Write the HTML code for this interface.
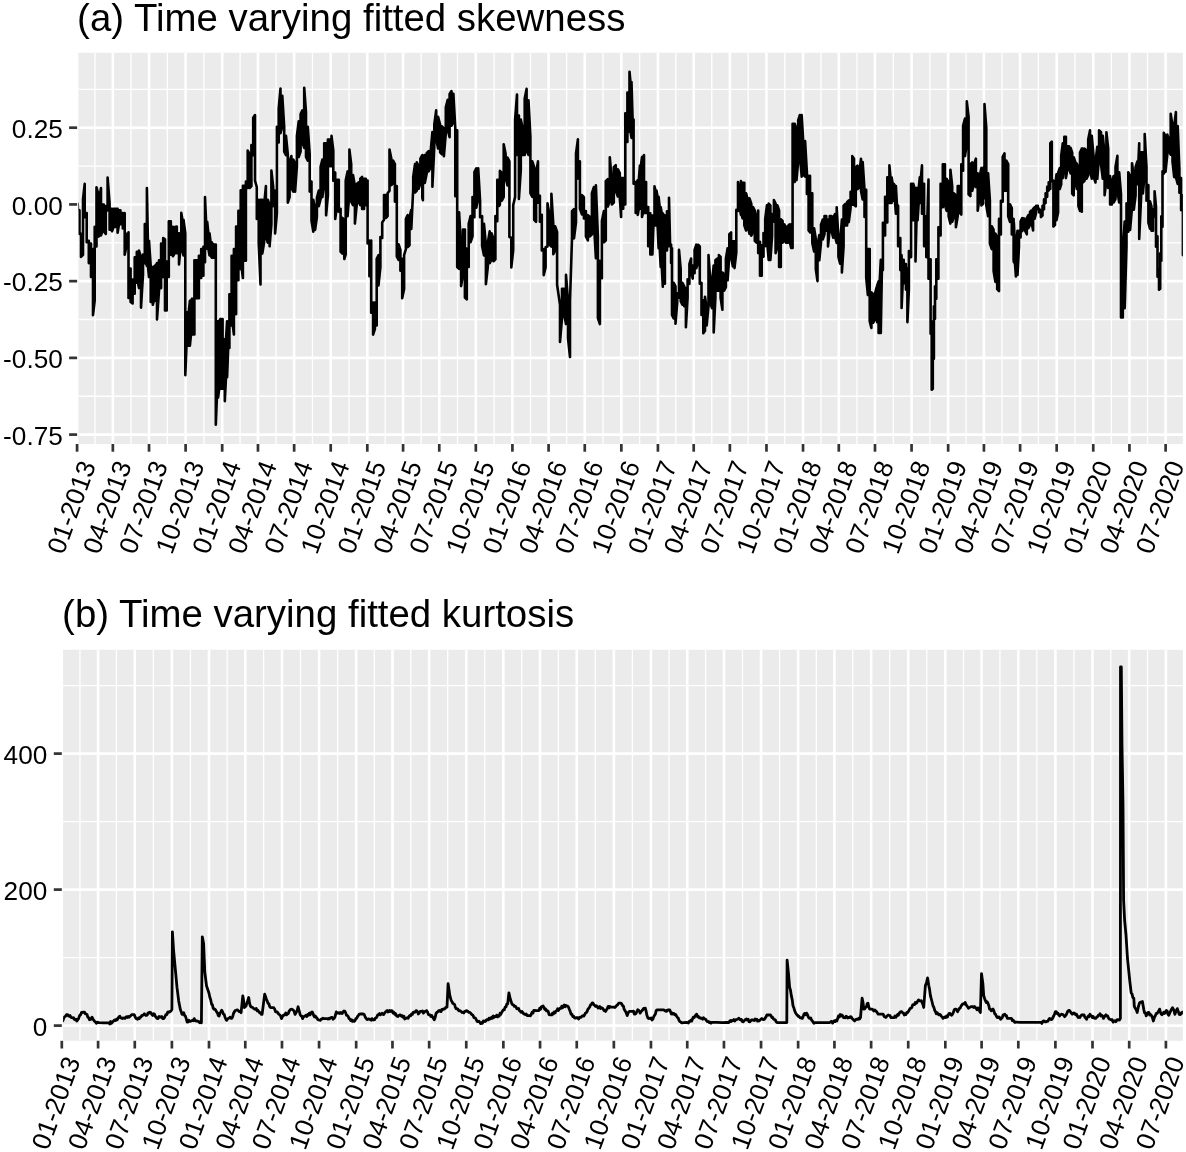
<!DOCTYPE html><html><head><meta charset="utf-8"><style>html,body{margin:0;padding:0;background:#fff;}svg{display:block;will-change:transform}text{font-family:"Liberation Sans",sans-serif;}</style></head><body>
<svg width="1186" height="1152" viewBox="0 0 1186 1152">
<rect width="1186" height="1152" fill="#fff"/>
<text x="77.1" y="30.6" font-size="38.4" fill="#000">(a) Time varying fitted skewness</text>
<rect x="78.4" y="52.8" width="1104.50" height="391.20" fill="#EBEBEB"/>
<clipPath id="ca"><rect x="78.4" y="52.8" width="1104.50" height="391.20"/></clipPath>
<g stroke="#fff" clip-path="url(#ca)"><line x1="78.4" x2="1182.9" y1="89.34" y2="89.34" stroke-width="1.3"/><line x1="78.4" x2="1182.9" y1="166.06" y2="166.06" stroke-width="1.3"/><line x1="78.4" x2="1182.9" y1="242.79" y2="242.79" stroke-width="1.3"/><line x1="78.4" x2="1182.9" y1="319.51" y2="319.51" stroke-width="1.3"/><line x1="78.4" x2="1182.9" y1="396.24" y2="396.24" stroke-width="1.3"/><line x1="94.96" x2="94.96" y1="52.8" y2="444.0" stroke-width="1.3"/><line x1="130.94" x2="130.94" y1="52.8" y2="444.0" stroke-width="1.3"/><line x1="167.32" x2="167.32" y1="52.8" y2="444.0" stroke-width="1.3"/><line x1="203.89" x2="203.89" y1="52.8" y2="444.0" stroke-width="1.3"/><line x1="240.07" x2="240.07" y1="52.8" y2="444.0" stroke-width="1.3"/><line x1="276.05" x2="276.05" y1="52.8" y2="444.0" stroke-width="1.3"/><line x1="312.43" x2="312.43" y1="52.8" y2="444.0" stroke-width="1.3"/><line x1="349.01" x2="349.01" y1="52.8" y2="444.0" stroke-width="1.3"/><line x1="385.19" x2="385.19" y1="52.8" y2="444.0" stroke-width="1.3"/><line x1="421.17" x2="421.17" y1="52.8" y2="444.0" stroke-width="1.3"/><line x1="457.54" x2="457.54" y1="52.8" y2="444.0" stroke-width="1.3"/><line x1="494.12" x2="494.12" y1="52.8" y2="444.0" stroke-width="1.3"/><line x1="530.50" x2="530.50" y1="52.8" y2="444.0" stroke-width="1.3"/><line x1="566.68" x2="566.68" y1="52.8" y2="444.0" stroke-width="1.3"/><line x1="603.06" x2="603.06" y1="52.8" y2="444.0" stroke-width="1.3"/><line x1="639.63" x2="639.63" y1="52.8" y2="444.0" stroke-width="1.3"/><line x1="675.81" x2="675.81" y1="52.8" y2="444.0" stroke-width="1.3"/><line x1="711.79" x2="711.79" y1="52.8" y2="444.0" stroke-width="1.3"/><line x1="748.17" x2="748.17" y1="52.8" y2="444.0" stroke-width="1.3"/><line x1="784.74" x2="784.74" y1="52.8" y2="444.0" stroke-width="1.3"/><line x1="820.92" x2="820.92" y1="52.8" y2="444.0" stroke-width="1.3"/><line x1="856.90" x2="856.90" y1="52.8" y2="444.0" stroke-width="1.3"/><line x1="893.28" x2="893.28" y1="52.8" y2="444.0" stroke-width="1.3"/><line x1="929.86" x2="929.86" y1="52.8" y2="444.0" stroke-width="1.3"/><line x1="966.04" x2="966.04" y1="52.8" y2="444.0" stroke-width="1.3"/><line x1="1002.02" x2="1002.02" y1="52.8" y2="444.0" stroke-width="1.3"/><line x1="1038.39" x2="1038.39" y1="52.8" y2="444.0" stroke-width="1.3"/><line x1="1074.97" x2="1074.97" y1="52.8" y2="444.0" stroke-width="1.3"/><line x1="1111.35" x2="1111.35" y1="52.8" y2="444.0" stroke-width="1.3"/><line x1="1147.53" x2="1147.53" y1="52.8" y2="444.0" stroke-width="1.3"/><line x1="78.4" x2="1182.9" y1="127.70" y2="127.70" stroke-width="2.6"/><line x1="78.4" x2="1182.9" y1="204.43" y2="204.43" stroke-width="2.6"/><line x1="78.4" x2="1182.9" y1="281.15" y2="281.15" stroke-width="2.6"/><line x1="78.4" x2="1182.9" y1="357.88" y2="357.88" stroke-width="2.6"/><line x1="78.4" x2="1182.9" y1="434.60" y2="434.60" stroke-width="2.6"/><line x1="112.85" x2="112.85" y1="52.8" y2="444.0" stroke-width="2.6"/><line x1="149.03" x2="149.03" y1="52.8" y2="444.0" stroke-width="2.6"/><line x1="185.61" x2="185.61" y1="52.8" y2="444.0" stroke-width="2.6"/><line x1="222.18" x2="222.18" y1="52.8" y2="444.0" stroke-width="2.6"/><line x1="257.96" x2="257.96" y1="52.8" y2="444.0" stroke-width="2.6"/><line x1="294.14" x2="294.14" y1="52.8" y2="444.0" stroke-width="2.6"/><line x1="330.72" x2="330.72" y1="52.8" y2="444.0" stroke-width="2.6"/><line x1="367.30" x2="367.30" y1="52.8" y2="444.0" stroke-width="2.6"/><line x1="403.08" x2="403.08" y1="52.8" y2="444.0" stroke-width="2.6"/><line x1="439.26" x2="439.26" y1="52.8" y2="444.0" stroke-width="2.6"/><line x1="475.83" x2="475.83" y1="52.8" y2="444.0" stroke-width="2.6"/><line x1="512.41" x2="512.41" y1="52.8" y2="444.0" stroke-width="2.6"/><line x1="548.59" x2="548.59" y1="52.8" y2="444.0" stroke-width="2.6"/><line x1="584.77" x2="584.77" y1="52.8" y2="444.0" stroke-width="2.6"/><line x1="621.34" x2="621.34" y1="52.8" y2="444.0" stroke-width="2.6"/><line x1="657.92" x2="657.92" y1="52.8" y2="444.0" stroke-width="2.6"/><line x1="693.70" x2="693.70" y1="52.8" y2="444.0" stroke-width="2.6"/><line x1="729.88" x2="729.88" y1="52.8" y2="444.0" stroke-width="2.6"/><line x1="766.46" x2="766.46" y1="52.8" y2="444.0" stroke-width="2.6"/><line x1="803.03" x2="803.03" y1="52.8" y2="444.0" stroke-width="2.6"/><line x1="838.81" x2="838.81" y1="52.8" y2="444.0" stroke-width="2.6"/><line x1="874.99" x2="874.99" y1="52.8" y2="444.0" stroke-width="2.6"/><line x1="911.57" x2="911.57" y1="52.8" y2="444.0" stroke-width="2.6"/><line x1="948.15" x2="948.15" y1="52.8" y2="444.0" stroke-width="2.6"/><line x1="983.93" x2="983.93" y1="52.8" y2="444.0" stroke-width="2.6"/><line x1="1020.11" x2="1020.11" y1="52.8" y2="444.0" stroke-width="2.6"/><line x1="1056.68" x2="1056.68" y1="52.8" y2="444.0" stroke-width="2.6"/><line x1="1093.26" x2="1093.26" y1="52.8" y2="444.0" stroke-width="2.6"/><line x1="1129.44" x2="1129.44" y1="52.8" y2="444.0" stroke-width="2.6"/><line x1="1165.62" x2="1165.62" y1="52.8" y2="444.0" stroke-width="2.6"/></g>
<polyline clip-path="url(#ca)" points="77.8,203.9 77.8,209.0 79.5,210.2 79.5,234.0 81.0,233.8 81.0,256.9 83.0,254.8 83.0,199.1 84.7,183.8 84.7,217.3 86.7,213.0 86.7,242.3 87.8,242.3 87.8,240.7 88.8,240.7 88.8,263.1 89.9,263.1 89.9,243.5 91.0,243.5 91.0,277.0 93.0,249.1 93.0,315.2 94.7,300.7 94.7,226.9 96.5,246.5 96.5,187.3 98.5,194.9 98.5,236.7 99.8,235.4 99.8,194.9 101.0,188.0 101.0,235.4 102.4,231.2 102.4,204.6 103.8,204.6 103.8,231.2 105.8,234.0 105.8,206.0 107.6,210.4 107.6,177.6 109.6,203.3 109.6,229.7 110.8,229.7 110.8,208.8 112.0,208.8 112.0,231.2 113.5,227.0 113.5,208.8 115.0,208.8 115.0,227.0 116.3,227.0 116.3,208.8 117.6,208.8 117.6,232.7 119.0,224.3 119.0,210.2 120.4,210.2 120.4,224.3 121.6,224.3 121.6,213.0 122.8,213.0 122.8,228.4 124.7,213.0 124.7,254.8 126.4,246.5 126.4,233.8 127.5,233.8 127.5,246.5 128.5,232.4 128.5,297.9 129.6,297.9 129.6,268.5 130.6,268.5 130.6,302.0 132.6,303.4 132.6,279.6 133.6,279.6 133.6,293.7 134.7,293.7 134.7,257.4 135.8,257.4 135.8,282.6 136.8,282.6 136.8,251.9 137.9,251.9 137.9,282.6 139.0,288.1 139.0,250.5 141.0,257.4 141.0,307.6 143.0,274.3 143.0,254.6 144.8,263.1 144.8,224.1 145.9,224.1 145.9,263.1 146.9,265.9 146.9,188.0 147.9,240.7 147.9,265.9 149.0,277.0 149.0,240.7 150.7,265.7 150.7,302.0 151.8,302.0 151.8,267.1 152.8,267.1 152.8,304.8 153.9,300.6 153.9,267.1 154.9,265.7 154.9,300.6 155.9,300.6 155.9,265.7 157.0,263.0 157.0,319.4 159.0,290.9 159.0,260.2 160.1,260.2 160.1,288.1 161.1,288.1 161.1,243.5 162.1,243.5 162.1,277.0 163.2,277.0 163.2,238.0 165.0,239.3 165.0,310.4 166.7,310.4 166.7,261.6 167.8,261.6 167.8,277.0 168.8,277.0 168.8,221.3 170.8,221.3 170.8,254.8 171.9,254.8 171.9,226.9 172.9,226.9 172.9,256.2 174.8,253.2 174.8,226.9 176.8,226.5 176.8,253.2 177.9,253.2 177.9,233.2 179.0,233.2 179.0,264.5 180.2,250.9 180.2,233.2 181.3,250.9 181.3,212.9 182.4,219.7 182.4,250.9 183.5,255.4 183.5,219.7 185.3,233.2 185.3,375.1 186.5,345.7 186.5,312.2 187.6,312.2 187.6,345.7 188.7,345.7 188.7,312.2 189.9,300.9 189.9,345.7 191.0,334.5 191.0,300.9 192.1,298.7 192.1,334.5 193.2,334.5 193.2,298.7 194.4,334.5 194.4,260.3 195.5,260.3 195.5,298.3 196.6,298.3 196.6,260.3 197.8,260.3 197.8,298.3 198.9,298.3 198.9,255.8 200.0,255.8 200.0,278.0 201.2,278.0 201.2,249.0 202.3,249.0 202.3,275.8 203.4,275.8 203.4,246.8 205.0,262.2 205.0,197.1 206.1,221.9 206.1,248.7 207.2,248.7 207.2,221.9 208.4,233.2 208.4,248.7 209.5,255.4 209.5,233.2 210.6,242.2 210.6,255.4 211.8,257.7 211.8,242.2 212.9,244.5 212.9,257.7 214.0,257.7 214.0,244.5 215.8,244.5 215.8,424.8 216.9,397.7 216.9,321.2 218.1,321.2 218.1,397.7 219.2,388.6 219.2,321.2 220.3,319.0 220.3,388.6 221.5,388.6 221.5,319.0 222.6,319.0 222.6,388.6 223.7,388.6 223.7,339.3 224.8,339.3 224.8,401.1 226.0,377.3 226.0,339.3 227.1,321.2 227.1,377.3 228.2,348.0 228.2,321.2 229.4,348.0 229.4,294.2 230.5,294.2 230.5,325.4 231.6,325.4 231.6,255.8 232.8,255.8 232.8,325.4 233.9,334.5 233.9,249.0 235.0,249.0 235.0,314.1 236.1,314.1 236.1,226.5 237.3,226.5 237.3,280.3 238.4,280.3 238.4,210.7 239.5,210.7 239.5,269.0 240.7,269.0 240.7,190.3 241.8,190.3 241.8,269.0 242.9,278.0 242.9,185.8 244.4,185.8 244.4,260.8 245.9,260.8 245.9,181.5 247.7,188.0 247.7,150.5 249.6,154.2 249.6,188.0 251.4,186.2 251.4,145.1 253.2,155.2 253.2,117.7 255.0,115.0 255.0,180.7 256.8,187.0 256.8,219.0 258.7,199.7 258.7,242.6 260.5,284.5 260.5,199.7 262.3,199.7 262.3,253.6 264.1,242.6 264.1,205.2 265.9,186.0 265.9,237.2 267.8,242.6 267.8,199.7 269.6,205.2 269.6,246.3 271.4,224.4 271.4,170.6 273.2,187.0 273.2,206.2 275.1,190.6 275.1,233.5 276.9,213.5 276.9,126.8 278.7,142.4 278.7,108.6 280.5,88.6 280.5,133.3 282.3,126.1 282.3,95.9 284.2,126.8 284.2,151.6 286.0,155.2 286.0,135.9 287.8,154.2 287.8,202.6 289.6,197.1 289.6,161.5 291.4,156.0 291.4,188.0 293.3,191.6 293.3,159.6 295.1,163.3 295.1,191.6 296.9,166.1 296.9,135.9 298.7,121.4 298.7,157.0 300.6,151.6 300.6,114.1 302.4,110.4 302.4,142.4 304.2,147.9 304.2,87.7 306.0,112.3 306.0,157.0 307.8,160.7 307.8,126.8 309.7,154.2 309.7,191.6 311.5,181.5 311.5,220.8 313.3,231.7 313.3,199.7 315.1,208.8 315.1,229.9 316.9,217.1 316.9,197.9 318.8,190.6 318.8,206.2 320.6,198.9 320.6,166.9 322.4,159.6 322.4,197.1 324.2,184.3 324.2,143.2 326.1,143.2 326.1,215.3 327.9,195.3 327.9,139.6 329.7,139.6 329.7,166.1 331.5,166.1 331.5,135.9 333.3,150.5 333.3,180.7 335.2,172.4 335.2,219.0 337.0,206.2 337.0,179.7 338.8,179.7 338.8,211.7 340.6,208.8 340.6,251.7 342.4,253.6 342.4,217.9 344.3,219.7 344.3,259.0 345.7,254.4 345.7,180.5 347.6,171.4 347.6,216.2 349.4,192.5 349.4,149.5 351.2,164.1 351.2,201.6 353.0,205.2 353.0,175.0 354.9,186.0 354.9,223.5 356.7,205.2 356.7,184.2 358.5,182.3 358.5,201.6 360.3,205.2 360.3,178.7 362.1,176.9 362.1,208.9 364.0,208.9 364.0,178.7 365.8,178.7 365.8,205.2 367.6,180.5 367.6,243.5 369.4,240.6 369.4,276.3 371.2,240.6 371.2,312.8 373.1,302.6 373.1,334.6 374.9,329.2 374.9,302.6 376.7,325.5 376.7,258.9 378.5,255.2 378.5,285.4 380.4,267.2 380.4,237.0 382.2,238.0 382.2,222.4 384.0,219.8 384.0,195.1 385.8,195.1 385.8,218.0 387.6,216.2 387.6,193.3 389.5,190.7 389.5,149.5 391.3,158.6 391.3,185.2 393.1,183.4 393.1,160.5 394.9,164.1 394.9,201.6 396.8,186.0 396.8,256.3 398.6,259.9 398.6,244.3 400.4,249.8 400.4,270.8 402.2,258.9 402.2,298.2 404.1,289.1 404.1,255.2 405.9,249.0 405.9,218.8 407.7,215.1 407.7,247.1 409.5,245.3 409.5,217.0 411.3,209.7 411.3,228.9 413.2,188.8 413.2,176.9 415.0,164.1 415.0,192.5 416.8,190.7 416.8,162.3 418.6,165.9 418.6,188.8 420.4,183.4 420.4,158.6 422.3,155.0 422.3,197.9 422.9,200.2 422.9,162.7 424.8,155.0 424.8,183.0 426.7,173.4 426.7,153.1 428.6,151.2 428.6,171.5 430.5,167.7 430.5,153.1 432.4,132.1 432.4,186.8 434.3,146.7 434.3,124.5 436.2,110.2 436.2,139.1 438.1,148.6 438.1,116.8 440.1,124.5 440.1,152.4 442.0,154.3 442.0,126.4 443.9,128.3 443.9,156.2 445.8,133.3 445.8,107.3 447.7,99.7 447.7,129.5 449.6,137.2 449.6,93.9 451.5,91.1 451.5,125.7 453.4,121.9 453.4,93.9 455.3,128.3 455.3,196.3 457.2,130.2 457.2,267.0 459.1,268.9 459.1,212.3 461.1,248.6 461.1,286.1 463.0,274.6 463.0,229.5 464.9,229.5 464.9,297.5 466.8,299.4 466.8,248.6 468.7,267.0 468.7,223.8 470.6,216.1 470.6,242.2 472.5,236.4 472.5,197.0 474.4,217.3 474.4,172.2 476.3,168.4 476.3,207.8 478.2,198.3 478.2,168.4 480.1,200.9 480.1,217.3 482.1,216.1 482.1,246.0 484.0,255.5 484.0,223.8 485.9,244.8 485.9,284.2 487.8,267.0 487.8,242.9 489.7,231.4 489.7,263.2 491.6,259.4 491.6,233.3 493.5,239.0 493.5,261.3 495.4,259.4 495.4,216.1 497.3,221.2 497.3,179.9 499.2,179.9 499.2,205.9 499.9,204.6 499.9,170.9 501.8,172.9 501.8,200.8 503.7,196.9 503.7,144.2 505.6,153.8 505.6,177.9 507.5,185.5 507.5,157.6 509.4,161.4 509.4,237.0 511.3,237.7 511.3,267.5 513.2,250.4 513.2,205.3 515.1,196.9 515.1,119.5 517.0,94.6 517.0,155.0 518.9,115.6 518.9,198.9 520.8,170.2 520.8,119.5 522.8,129.0 522.8,155.0 524.7,155.0 524.7,98.5 526.6,88.9 526.6,151.2 528.5,155.0 528.5,100.4 530.4,136.6 530.4,193.1 532.3,196.9 532.3,161.4 534.2,167.1 534.2,219.8 536.1,221.8 536.1,172.9 538.0,161.4 538.0,202.7 539.9,195.7 539.9,221.8 541.8,214.8 541.8,250.4 543.7,249.1 543.7,275.1 545.6,267.5 545.6,247.2 547.5,246.5 547.5,203.4 549.5,214.8 549.5,244.6 551.4,246.5 551.4,193.8 553.3,224.4 553.3,254.2 555.2,250.4 555.2,226.3 557.1,232.0 557.1,284.7 560.0,304.7 560.0,342.0 562.0,318.1 562.0,288.8 564.0,288.8 564.0,314.1 566.0,324.1 566.0,274.9 568.0,300.8 568.0,338.0 570.0,357.0 570.0,300.8 572.0,238.4 572.0,211.1 574.0,209.1 574.0,238.4 576.0,222.4 576.0,153.3 577.9,139.3 577.9,178.6 579.9,161.2 579.9,208.5 581.9,214.4 581.9,195.1 583.9,197.1 583.9,218.4 585.9,211.1 585.9,236.4 587.9,240.3 587.9,215.1 589.9,217.0 589.9,236.4 591.9,234.4 591.9,193.1 593.9,187.1 593.9,222.4 595.9,258.3 595.9,185.2 597.9,237.0 597.9,318.1 599.9,324.1 599.9,260.9 601.9,278.2 601.9,221.0 603.9,211.1 603.9,242.3 605.8,240.3 605.8,181.2 607.8,179.2 607.8,206.5 609.8,200.5 609.8,157.2 611.8,181.2 611.8,204.5 613.8,202.5 613.8,167.2 615.8,165.2 615.8,190.5 617.8,196.5 617.8,169.2 619.8,173.2 619.8,198.5 621.1,217.0 621.1,178.0 622.2,178.0 622.2,208.7 623.2,208.7 623.2,178.0 624.2,178.0 624.2,204.5 625.3,204.5 625.3,113.4 626.3,113.4 626.3,142.0 627.4,142.0 627.4,92.5 628.4,92.5 628.4,131.6 629.5,131.6 629.5,71.7 630.5,82.1 630.5,131.6 631.5,137.9 631.5,82.1 632.6,119.6 632.6,137.9 633.6,119.6 633.6,183.7 634.7,183.7 634.7,182.1 635.7,182.1 635.7,212.9 636.8,212.9 636.8,182.1 637.8,180.1 637.8,214.9 638.8,208.7 638.8,180.1 639.9,165.5 639.9,208.7 640.9,208.7 640.9,165.5 642.0,157.1 642.0,217.0 643.0,212.9 643.0,157.1 644.0,155.1 644.0,212.9 645.1,212.9 645.1,182.1 646.1,182.1 646.1,212.9 647.2,212.9 647.2,207.1 648.2,207.1 648.2,246.2 649.2,246.2 649.2,213.4 650.3,213.4 650.3,254.5 651.3,254.5 651.3,215.5 652.4,215.5 652.4,254.5 653.4,225.4 653.4,215.5 654.5,225.4 654.5,186.3 655.5,190.5 655.5,225.4 656.5,225.4 656.5,190.5 657.6,196.7 657.6,225.4 658.6,248.3 658.6,196.7 659.7,207.1 659.7,248.3 660.7,267.0 660.7,207.1 661.8,213.4 661.8,267.0 662.8,286.8 662.8,213.4 663.8,215.5 663.8,283.7 664.9,283.7 664.9,215.5 665.9,215.5 665.9,250.4 667.0,250.4 667.0,211.3 668.0,211.3 668.0,246.2 669.0,246.2 669.0,197.8 670.1,244.6 670.1,246.2 671.1,244.6 671.1,262.9 672.0,248.2 672.0,315.0 673.7,318.5 673.7,282.9 675.5,286.4 675.5,323.7 677.2,302.9 677.2,293.3 679.0,297.7 679.0,249.9 680.7,269.0 680.7,301.1 682.4,304.6 682.4,282.9 684.2,286.4 684.2,306.3 685.9,288.1 685.9,327.2 687.6,297.7 687.6,279.4 689.4,283.8 689.4,263.8 691.1,258.6 691.1,273.3 692.8,278.6 692.8,265.5 694.6,273.3 694.6,249.9 696.3,244.7 696.3,268.1 698.1,262.9 698.1,244.7 699.8,246.4 699.8,283.8 701.5,282.9 701.5,315.0 703.3,300.3 703.3,333.3 705.0,330.7 705.0,296.8 706.7,308.9 706.7,325.4 708.5,306.3 708.5,255.1 710.2,279.4 710.2,302.9 712.0,308.1 712.0,282.9 713.7,265.5 713.7,332.4 715.4,297.7 715.4,260.3 717.2,258.6 717.2,290.7 718.9,290.7 718.9,255.1 720.6,256.8 720.6,297.7 722.4,309.8 722.4,272.5 724.1,274.2 724.1,290.7 725.9,287.2 725.9,258.6 727.6,248.2 727.6,280.3 729.3,256.0 729.3,234.2 731.1,232.5 731.1,256.0 732.8,266.4 732.8,241.2 734.5,241.2 734.5,268.1 736.3,252.5 736.3,209.9 738.0,210.8 738.0,182.1 739.7,192.6 739.7,207.3 740.9,214.9 740.9,181.0 741.5,196.0 741.5,214.3 742.6,218.3 742.6,182.7 744.3,182.7 744.3,225.3 746.1,230.5 746.1,193.2 747.8,200.1 747.8,225.3 749.5,234.0 749.5,198.4 751.3,203.6 751.3,235.7 753.0,232.2 753.0,207.1 754.8,210.5 754.8,240.9 756.5,242.7 756.5,217.5 758.2,210.5 758.2,253.1 760.0,241.8 760.0,275.7 761.7,275.7 761.7,245.3 763.5,256.6 763.5,233.1 765.2,246.1 765.2,219.2 766.9,205.3 766.9,239.2 768.7,260.0 768.7,203.6 770.4,205.3 770.4,260.0 772.1,235.7 772.1,214.0 773.9,221.8 773.9,200.1 775.6,203.6 775.6,253.1 777.4,246.1 777.4,205.3 779.1,210.5 779.1,267.0 780.8,267.0 780.8,219.2 782.6,220.9 782.6,242.7 784.3,240.9 784.3,224.4 786.0,227.9 786.0,242.7 787.8,242.7 787.8,226.2 789.5,224.4 789.5,240.9 791.2,247.9 791.2,224.4 792.6,247.9 792.6,123.7 793.7,123.7 793.7,181.9 794.7,181.9 794.7,123.7 796.5,128.9 796.5,180.1 798.2,161.0 798.2,120.2 799.9,115.0 799.9,155.8 801.7,176.6 801.7,115.0 803.4,144.5 803.4,174.9 805.1,176.6 805.1,141.0 806.9,172.3 806.9,194.0 808.6,175.8 808.6,230.5 810.0,232.2 810.0,175.8 810.1,189.9 810.1,232.5 811.2,232.5 811.2,193.4 812.3,193.4 812.3,242.9 814.1,251.6 814.1,228.2 815.8,238.6 815.8,269.0 817.5,281.1 817.5,245.5 819.3,235.1 819.3,260.3 821.0,242.9 821.0,224.7 822.8,219.5 822.8,239.4 824.5,234.2 824.5,216.0 826.2,216.0 826.2,230.8 828.0,219.5 828.0,246.4 829.7,229.0 829.7,216.0 831.5,216.0 831.5,230.8 833.2,237.7 833.2,217.7 834.9,214.2 834.9,236.0 836.7,242.9 836.7,207.3 838.4,238.6 838.4,256.8 840.1,263.8 840.1,242.1 841.9,219.5 841.9,272.4 843.6,246.4 843.6,205.6 845.4,203.8 845.4,225.5 847.1,225.5 847.1,202.1 848.8,200.4 848.8,222.1 850.6,208.2 850.6,191.7 852.3,204.7 852.3,156.1 854.0,158.7 854.0,204.7 855.8,206.4 855.8,167.4 857.5,165.6 857.5,189.1 859.2,187.3 859.2,174.3 861.0,158.7 861.0,190.8 862.7,199.5 862.7,162.1 864.5,189.9 864.5,216.9 866.2,189.9 866.2,277.7 867.9,295.0 867.9,249.0 869.7,249.0 869.7,321.1 871.4,328.0 871.4,292.4 873.1,294.2 873.1,322.8 874.9,319.3 874.9,294.2 876.6,287.2 876.6,315.9 877.1,322.1 877.1,285.7 878.6,281.3 878.6,332.9 879.7,332.9 879.7,281.3 880.8,259.7 880.8,332.9 881.9,270.1 881.9,259.7 882.9,270.1 882.9,222.8 884.0,222.8 884.0,235.4 885.1,235.4 885.1,196.8 886.2,196.8 886.2,222.4 887.3,222.4 887.3,177.3 888.4,177.3 888.4,202.9 889.4,202.9 889.4,165.4 890.5,177.3 890.5,202.9 891.6,202.9 891.6,177.3 892.7,183.8 892.7,200.7 893.8,200.7 893.8,183.8 894.9,186.0 894.9,200.7 895.9,213.7 895.9,186.0 897.0,205.5 897.0,213.7 898.1,205.5 898.1,246.2 899.2,246.2 899.2,238.0 900.3,238.0 900.3,270.1 901.6,255.3 901.6,308.0 902.7,283.1 902.7,259.7 903.7,259.7 903.7,283.1 904.8,283.1 904.8,264.0 905.9,264.0 905.9,289.6 907.4,268.3 907.4,322.1 908.9,289.6 908.9,251.0 910.0,251.0 910.0,257.1 911.1,257.1 911.1,183.8 912.2,183.8 912.2,220.2 913.3,220.2 913.3,183.8 914.4,188.1 914.4,220.2 915.5,188.1 915.5,261.4 916.5,220.2 916.5,188.1 917.6,188.1 917.6,220.2 918.7,202.9 918.7,188.1 919.8,177.3 919.8,202.9 920.9,202.9 920.9,177.3 922.0,165.4 922.0,213.7 923.0,213.7 923.0,183.8 924.1,183.8 924.1,246.2 925.2,246.2 925.2,216.3 926.3,216.3 926.3,257.1 927.4,257.1 927.4,216.3 928.5,179.5 928.5,278.7 929.5,278.7 929.5,259.3 930.6,259.3 930.6,333.7 931.7,321.3 931.7,389.7 932.8,388.7 932.8,346.3 933.9,358.7 933.9,306.3 935.0,318.7 935.0,286.3 936.3,298.7 936.3,259.3 937.4,259.3 937.4,278.7 938.4,278.7 938.4,227.2 939.5,227.2 939.5,235.4 940.6,235.4 940.6,183.8 941.7,183.8 941.7,207.2 942.8,207.2 942.8,164.3 943.8,164.3 943.8,205.4 944.9,205.4 944.9,164.2 944.9,164.3 944.9,205.0 946.7,210.8 946.7,178.8 948.6,182.4 948.6,216.3 950.4,223.6 950.4,169.7 952.2,186.1 952.2,221.8 954.0,216.3 954.0,193.4 955.9,195.2 955.9,227.2 957.7,216.3 957.7,186.1 959.5,186.1 959.5,212.6 961.3,214.5 961.3,164.2 963.1,170.7 963.1,125.9 965.0,118.6 965.0,156.1 966.8,143.4 966.8,101.3 968.6,116.8 968.6,194.4 970.4,196.2 970.4,164.2 972.2,162.4 972.2,190.8 974.1,183.5 974.1,164.2 975.9,158.7 975.9,187.1 977.7,173.3 977.7,210.8 979.5,198.1 979.5,177.0 981.4,167.9 981.4,205.4 983.2,203.5 983.2,167.9 984.5,198.1 984.5,104.1 986.3,127.8 986.3,205.4 988.1,216.3 988.1,173.3 989.9,200.7 989.9,243.6 991.8,249.1 991.8,226.2 993.6,229.8 993.6,271.0 995.4,281.9 995.4,233.5 997.2,237.1 997.2,289.2 999.0,291.0 999.0,218.9 1000.9,234.5 1000.9,200.7 1002.7,201.7 1002.7,156.9 1004.5,153.3 1004.5,190.8 1006.3,190.8 1006.3,160.6 1008.2,164.2 1008.2,216.3 1010.0,221.8 1010.0,204.3 1011.8,208.0 1011.8,234.5 1013.6,218.9 1013.6,260.1 1013.9,262.4 1013.9,222.9 1014.9,246.3 1014.9,262.4 1015.9,276.5 1015.9,246.3 1017.5,230.7 1017.5,274.9 1019.0,246.8 1019.0,230.7 1020.6,237.4 1020.6,221.3 1022.2,218.2 1022.2,231.2 1023.7,228.1 1023.7,218.2 1025.3,219.7 1025.3,231.2 1026.8,234.3 1026.8,218.2 1028.4,215.1 1028.4,228.1 1030.0,224.9 1030.0,211.9 1031.5,210.4 1031.5,221.8 1033.1,230.4 1033.1,208.8 1034.7,207.2 1034.7,218.7 1036.2,212.4 1036.2,205.7 1037.8,205.7 1037.8,209.3 1039.3,208.8 1039.3,212.4 1040.9,210.4 1040.9,217.1 1042.5,215.6 1042.5,205.7 1044.0,209.3 1044.0,199.4 1045.6,203.1 1045.6,193.2 1047.2,196.8 1047.2,186.9 1048.7,190.6 1048.7,182.2 1050.3,189.0 1050.3,143.2 1051.8,141.6 1051.8,181.2 1053.4,180.7 1053.4,226.5 1055.0,224.9 1055.0,186.9 1056.5,174.4 1056.5,220.3 1058.1,212.4 1058.1,172.9 1059.7,168.2 1059.7,189.0 1061.2,184.3 1061.2,155.7 1062.8,143.2 1062.8,178.1 1064.3,165.6 1064.3,136.9 1065.9,136.9 1065.9,178.1 1067.5,168.7 1067.5,146.3 1069.0,146.3 1069.0,167.1 1070.6,173.4 1070.6,147.9 1072.2,152.6 1072.2,193.7 1073.7,195.3 1073.7,157.2 1075.3,161.9 1075.3,181.2 1076.8,189.0 1076.8,163.5 1078.4,168.2 1078.4,206.2 1080.0,210.9 1080.0,152.6 1081.5,149.4 1081.5,181.2 1081.8,211.7 1081.8,148.6 1082.7,148.6 1082.7,182.5 1084.6,180.7 1084.6,148.6 1086.4,150.5 1086.4,178.8 1088.2,175.2 1088.2,139.5 1090.0,130.4 1090.0,169.7 1091.8,178.8 1091.8,135.9 1093.7,157.8 1093.7,177.0 1095.5,182.5 1095.5,161.4 1097.3,146.8 1097.3,178.8 1099.1,155.2 1099.1,130.4 1101.0,132.2 1101.0,164.3 1102.8,178.8 1102.8,135.9 1104.6,154.1 1104.6,195.3 1106.4,180.7 1106.4,132.2 1108.2,148.6 1108.2,188.0 1110.1,176.0 1110.1,204.4 1111.9,204.4 1111.9,181.5 1113.7,176.0 1113.7,202.5 1115.5,198.9 1115.5,166.9 1117.4,155.9 1117.4,191.6 1119.2,202.5 1119.2,172.3 1121.0,194.2 1121.0,317.4 1122.8,317.4 1122.8,248.9 1124.7,221.6 1124.7,308.3 1126.5,246.3 1126.5,203.3 1128.3,231.7 1128.3,172.3 1130.1,176.0 1130.1,229.9 1132.0,208.0 1132.0,163.2 1133.8,176.0 1133.8,209.8 1135.6,195.3 1135.6,166.9 1137.4,161.4 1137.4,184.3 1139.2,143.2 1139.2,239.0 1141.1,197.1 1141.1,152.3 1142.9,152.3 1142.9,193.4 1144.7,173.4 1144.7,134.1 1146.5,166.9 1146.5,200.7 1148.4,185.1 1148.4,222.6 1150.0,228.7 1150.0,201.3 1151.5,206.3 1151.5,230.7 1153.0,230.7 1153.0,209.3 1154.6,216.7 1154.6,191.3 1156.0,206.3 1156.0,246.7 1157.5,236.3 1157.5,276.7 1159.0,269.3 1159.0,289.7 1160.2,288.7 1160.2,253.3 1161.3,260.7 1161.3,216.3 1162.5,226.7 1162.5,171.3 1163.8,173.6 1163.8,132.9 1165.5,136.4 1165.5,171.9 1167.3,154.6 1167.3,134.6 1169.0,139.8 1169.0,151.1 1170.7,154.6 1170.7,113.8 1172.5,126.0 1172.5,161.5 1174.2,177.1 1174.2,126.0 1175.9,112.1 1175.9,177.1 1177.7,184.0 1177.7,126.0 1179.4,169.3 1179.4,192.7 1181.1,178.0 1181.1,210.1 1182.9,195.3 1182.9,255.1" fill="none" stroke="#000" stroke-width="2.6" stroke-linejoin="round" stroke-linecap="round"/>
<g stroke="#333333" stroke-width="2.7"><line x1="69.10" x2="77.10" y1="127.70" y2="127.70"/><line x1="69.10" x2="77.10" y1="204.43" y2="204.43"/><line x1="69.10" x2="77.10" y1="281.15" y2="281.15"/><line x1="69.10" x2="77.10" y1="357.88" y2="357.88"/><line x1="69.10" x2="77.10" y1="434.60" y2="434.60"/><line x1="77.07" x2="77.07" y1="444.0" y2="451.70"/><line x1="112.85" x2="112.85" y1="444.0" y2="451.70"/><line x1="149.03" x2="149.03" y1="444.0" y2="451.70"/><line x1="185.61" x2="185.61" y1="444.0" y2="451.70"/><line x1="222.18" x2="222.18" y1="444.0" y2="451.70"/><line x1="257.96" x2="257.96" y1="444.0" y2="451.70"/><line x1="294.14" x2="294.14" y1="444.0" y2="451.70"/><line x1="330.72" x2="330.72" y1="444.0" y2="451.70"/><line x1="367.30" x2="367.30" y1="444.0" y2="451.70"/><line x1="403.08" x2="403.08" y1="444.0" y2="451.70"/><line x1="439.26" x2="439.26" y1="444.0" y2="451.70"/><line x1="475.83" x2="475.83" y1="444.0" y2="451.70"/><line x1="512.41" x2="512.41" y1="444.0" y2="451.70"/><line x1="548.59" x2="548.59" y1="444.0" y2="451.70"/><line x1="584.77" x2="584.77" y1="444.0" y2="451.70"/><line x1="621.34" x2="621.34" y1="444.0" y2="451.70"/><line x1="657.92" x2="657.92" y1="444.0" y2="451.70"/><line x1="693.70" x2="693.70" y1="444.0" y2="451.70"/><line x1="729.88" x2="729.88" y1="444.0" y2="451.70"/><line x1="766.46" x2="766.46" y1="444.0" y2="451.70"/><line x1="803.03" x2="803.03" y1="444.0" y2="451.70"/><line x1="838.81" x2="838.81" y1="444.0" y2="451.70"/><line x1="874.99" x2="874.99" y1="444.0" y2="451.70"/><line x1="911.57" x2="911.57" y1="444.0" y2="451.70"/><line x1="948.15" x2="948.15" y1="444.0" y2="451.70"/><line x1="983.93" x2="983.93" y1="444.0" y2="451.70"/><line x1="1020.11" x2="1020.11" y1="444.0" y2="451.70"/><line x1="1056.68" x2="1056.68" y1="444.0" y2="451.70"/><line x1="1093.26" x2="1093.26" y1="444.0" y2="451.70"/><line x1="1129.44" x2="1129.44" y1="444.0" y2="451.70"/><line x1="1165.62" x2="1165.62" y1="444.0" y2="451.70"/></g>
<text x="62.8" y="138.00" font-size="26.2" text-anchor="end" fill="#000">0.25</text>
<text x="62.8" y="214.73" font-size="26.2" text-anchor="end" fill="#000">0.00</text>
<text x="62.8" y="291.45" font-size="26.2" text-anchor="end" fill="#000">-0.25</text>
<text x="62.8" y="368.18" font-size="26.2" text-anchor="end" fill="#000">-0.50</text>
<text x="62.8" y="444.90" font-size="26.2" text-anchor="end" fill="#000">-0.75</text>
<text transform="translate(96.27,465.1) rotate(-70)" font-size="26.2" text-anchor="end" fill="#000">01-2013</text>
<text transform="translate(132.05,465.1) rotate(-70)" font-size="26.2" text-anchor="end" fill="#000">04-2013</text>
<text transform="translate(168.23,465.1) rotate(-70)" font-size="26.2" text-anchor="end" fill="#000">07-2013</text>
<text transform="translate(204.81,465.1) rotate(-70)" font-size="26.2" text-anchor="end" fill="#000">10-2013</text>
<text transform="translate(241.38,465.1) rotate(-70)" font-size="26.2" text-anchor="end" fill="#000">01-2014</text>
<text transform="translate(277.16,465.1) rotate(-70)" font-size="26.2" text-anchor="end" fill="#000">04-2014</text>
<text transform="translate(313.34,465.1) rotate(-70)" font-size="26.2" text-anchor="end" fill="#000">07-2014</text>
<text transform="translate(349.92,465.1) rotate(-70)" font-size="26.2" text-anchor="end" fill="#000">10-2014</text>
<text transform="translate(386.50,465.1) rotate(-70)" font-size="26.2" text-anchor="end" fill="#000">01-2015</text>
<text transform="translate(422.28,465.1) rotate(-70)" font-size="26.2" text-anchor="end" fill="#000">04-2015</text>
<text transform="translate(458.46,465.1) rotate(-70)" font-size="26.2" text-anchor="end" fill="#000">07-2015</text>
<text transform="translate(495.03,465.1) rotate(-70)" font-size="26.2" text-anchor="end" fill="#000">10-2015</text>
<text transform="translate(531.61,465.1) rotate(-70)" font-size="26.2" text-anchor="end" fill="#000">01-2016</text>
<text transform="translate(567.79,465.1) rotate(-70)" font-size="26.2" text-anchor="end" fill="#000">04-2016</text>
<text transform="translate(603.97,465.1) rotate(-70)" font-size="26.2" text-anchor="end" fill="#000">07-2016</text>
<text transform="translate(640.54,465.1) rotate(-70)" font-size="26.2" text-anchor="end" fill="#000">10-2016</text>
<text transform="translate(677.12,465.1) rotate(-70)" font-size="26.2" text-anchor="end" fill="#000">01-2017</text>
<text transform="translate(712.90,465.1) rotate(-70)" font-size="26.2" text-anchor="end" fill="#000">04-2017</text>
<text transform="translate(749.08,465.1) rotate(-70)" font-size="26.2" text-anchor="end" fill="#000">07-2017</text>
<text transform="translate(785.66,465.1) rotate(-70)" font-size="26.2" text-anchor="end" fill="#000">10-2017</text>
<text transform="translate(822.23,465.1) rotate(-70)" font-size="26.2" text-anchor="end" fill="#000">01-2018</text>
<text transform="translate(858.01,465.1) rotate(-70)" font-size="26.2" text-anchor="end" fill="#000">04-2018</text>
<text transform="translate(894.19,465.1) rotate(-70)" font-size="26.2" text-anchor="end" fill="#000">07-2018</text>
<text transform="translate(930.77,465.1) rotate(-70)" font-size="26.2" text-anchor="end" fill="#000">10-2018</text>
<text transform="translate(967.35,465.1) rotate(-70)" font-size="26.2" text-anchor="end" fill="#000">01-2019</text>
<text transform="translate(1003.13,465.1) rotate(-70)" font-size="26.2" text-anchor="end" fill="#000">04-2019</text>
<text transform="translate(1039.31,465.1) rotate(-70)" font-size="26.2" text-anchor="end" fill="#000">07-2019</text>
<text transform="translate(1075.88,465.1) rotate(-70)" font-size="26.2" text-anchor="end" fill="#000">10-2019</text>
<text transform="translate(1112.46,465.1) rotate(-70)" font-size="26.2" text-anchor="end" fill="#000">01-2020</text>
<text transform="translate(1148.64,465.1) rotate(-70)" font-size="26.2" text-anchor="end" fill="#000">04-2020</text>
<text transform="translate(1184.82,465.1) rotate(-70)" font-size="26.2" text-anchor="end" fill="#000">07-2020</text>
<text x="62.1" y="626.9" font-size="38.4" fill="#000">(b) Time varying fitted kurtosis</text>
<rect x="63.1" y="649.8" width="1119.80" height="391.00" fill="#EBEBEB"/>
<clipPath id="cb"><rect x="63.1" y="649.8" width="1119.80" height="391.00"/></clipPath>
<g stroke="#fff" clip-path="url(#cb)"><line x1="63.1" x2="1182.9" y1="957.60" y2="957.60" stroke-width="1.3"/><line x1="63.1" x2="1182.9" y1="821.60" y2="821.60" stroke-width="1.3"/><line x1="63.1" x2="1182.9" y1="685.60" y2="685.60" stroke-width="1.3"/><line x1="79.95" x2="79.95" y1="649.8" y2="1040.8" stroke-width="1.3"/><line x1="116.44" x2="116.44" y1="649.8" y2="1040.8" stroke-width="1.3"/><line x1="153.34" x2="153.34" y1="649.8" y2="1040.8" stroke-width="1.3"/><line x1="190.44" x2="190.44" y1="649.8" y2="1040.8" stroke-width="1.3"/><line x1="227.13" x2="227.13" y1="649.8" y2="1040.8" stroke-width="1.3"/><line x1="263.63" x2="263.63" y1="649.8" y2="1040.8" stroke-width="1.3"/><line x1="300.52" x2="300.52" y1="649.8" y2="1040.8" stroke-width="1.3"/><line x1="337.62" x2="337.62" y1="649.8" y2="1040.8" stroke-width="1.3"/><line x1="374.32" x2="374.32" y1="649.8" y2="1040.8" stroke-width="1.3"/><line x1="410.81" x2="410.81" y1="649.8" y2="1040.8" stroke-width="1.3"/><line x1="447.71" x2="447.71" y1="649.8" y2="1040.8" stroke-width="1.3"/><line x1="484.81" x2="484.81" y1="649.8" y2="1040.8" stroke-width="1.3"/><line x1="521.71" x2="521.71" y1="649.8" y2="1040.8" stroke-width="1.3"/><line x1="558.40" x2="558.40" y1="649.8" y2="1040.8" stroke-width="1.3"/><line x1="595.30" x2="595.30" y1="649.8" y2="1040.8" stroke-width="1.3"/><line x1="632.40" x2="632.40" y1="649.8" y2="1040.8" stroke-width="1.3"/><line x1="669.09" x2="669.09" y1="649.8" y2="1040.8" stroke-width="1.3"/><line x1="705.59" x2="705.59" y1="649.8" y2="1040.8" stroke-width="1.3"/><line x1="742.49" x2="742.49" y1="649.8" y2="1040.8" stroke-width="1.3"/><line x1="779.58" x2="779.58" y1="649.8" y2="1040.8" stroke-width="1.3"/><line x1="816.28" x2="816.28" y1="649.8" y2="1040.8" stroke-width="1.3"/><line x1="852.77" x2="852.77" y1="649.8" y2="1040.8" stroke-width="1.3"/><line x1="889.67" x2="889.67" y1="649.8" y2="1040.8" stroke-width="1.3"/><line x1="926.77" x2="926.77" y1="649.8" y2="1040.8" stroke-width="1.3"/><line x1="963.47" x2="963.47" y1="649.8" y2="1040.8" stroke-width="1.3"/><line x1="999.96" x2="999.96" y1="649.8" y2="1040.8" stroke-width="1.3"/><line x1="1036.86" x2="1036.86" y1="649.8" y2="1040.8" stroke-width="1.3"/><line x1="1073.96" x2="1073.96" y1="649.8" y2="1040.8" stroke-width="1.3"/><line x1="1110.85" x2="1110.85" y1="649.8" y2="1040.8" stroke-width="1.3"/><line x1="1147.55" x2="1147.55" y1="649.8" y2="1040.8" stroke-width="1.3"/><line x1="63.1" x2="1182.9" y1="1025.60" y2="1025.60" stroke-width="2.6"/><line x1="63.1" x2="1182.9" y1="889.60" y2="889.60" stroke-width="2.6"/><line x1="63.1" x2="1182.9" y1="753.60" y2="753.60" stroke-width="2.6"/><line x1="98.09" x2="98.09" y1="649.8" y2="1040.8" stroke-width="2.6"/><line x1="134.79" x2="134.79" y1="649.8" y2="1040.8" stroke-width="2.6"/><line x1="171.89" x2="171.89" y1="649.8" y2="1040.8" stroke-width="2.6"/><line x1="208.99" x2="208.99" y1="649.8" y2="1040.8" stroke-width="2.6"/><line x1="245.28" x2="245.28" y1="649.8" y2="1040.8" stroke-width="2.6"/><line x1="281.97" x2="281.97" y1="649.8" y2="1040.8" stroke-width="2.6"/><line x1="319.07" x2="319.07" y1="649.8" y2="1040.8" stroke-width="2.6"/><line x1="356.17" x2="356.17" y1="649.8" y2="1040.8" stroke-width="2.6"/><line x1="392.47" x2="392.47" y1="649.8" y2="1040.8" stroke-width="2.6"/><line x1="429.16" x2="429.16" y1="649.8" y2="1040.8" stroke-width="2.6"/><line x1="466.26" x2="466.26" y1="649.8" y2="1040.8" stroke-width="2.6"/><line x1="503.36" x2="503.36" y1="649.8" y2="1040.8" stroke-width="2.6"/><line x1="540.05" x2="540.05" y1="649.8" y2="1040.8" stroke-width="2.6"/><line x1="576.75" x2="576.75" y1="649.8" y2="1040.8" stroke-width="2.6"/><line x1="613.85" x2="613.85" y1="649.8" y2="1040.8" stroke-width="2.6"/><line x1="650.95" x2="650.95" y1="649.8" y2="1040.8" stroke-width="2.6"/><line x1="687.24" x2="687.24" y1="649.8" y2="1040.8" stroke-width="2.6"/><line x1="723.94" x2="723.94" y1="649.8" y2="1040.8" stroke-width="2.6"/><line x1="761.04" x2="761.04" y1="649.8" y2="1040.8" stroke-width="2.6"/><line x1="798.13" x2="798.13" y1="649.8" y2="1040.8" stroke-width="2.6"/><line x1="834.43" x2="834.43" y1="649.8" y2="1040.8" stroke-width="2.6"/><line x1="871.12" x2="871.12" y1="649.8" y2="1040.8" stroke-width="2.6"/><line x1="908.22" x2="908.22" y1="649.8" y2="1040.8" stroke-width="2.6"/><line x1="945.32" x2="945.32" y1="649.8" y2="1040.8" stroke-width="2.6"/><line x1="981.61" x2="981.61" y1="649.8" y2="1040.8" stroke-width="2.6"/><line x1="1018.31" x2="1018.31" y1="649.8" y2="1040.8" stroke-width="2.6"/><line x1="1055.41" x2="1055.41" y1="649.8" y2="1040.8" stroke-width="2.6"/><line x1="1092.51" x2="1092.51" y1="649.8" y2="1040.8" stroke-width="2.6"/><line x1="1129.20" x2="1129.20" y1="649.8" y2="1040.8" stroke-width="2.6"/><line x1="1165.90" x2="1165.90" y1="649.8" y2="1040.8" stroke-width="2.6"/></g>
<polyline clip-path="url(#cb)" points="62.5,1021.8 63.8,1018.0 64.6,1016.7 65.5,1016.3 66.5,1014.6 67.6,1014.6 68.4,1015.9 69.3,1016.3 70.1,1015.6 71.0,1017.3 71.8,1017.6 72.6,1017.8 73.5,1017.6 74.3,1019.3 75.2,1019.8 76.0,1019.2 76.9,1021.0 77.7,1019.7 78.5,1018.8 79.6,1015.6 80.7,1014.6 81.5,1012.5 82.3,1012.5 83.4,1012.1 84.5,1012.1 85.3,1013.8 86.1,1013.8 87.0,1014.5 87.8,1017.2 88.7,1017.7 89.5,1019.7 90.8,1019.3 92.0,1017.2 93.3,1019.7 94.4,1021.1 95.4,1021.8 96.3,1023.2 97.1,1022.4 97.9,1022.2 98.8,1022.6 103.8,1022.9 108.9,1022.9 109.7,1024.0 110.6,1021.5 111.4,1023.4 112.3,1022.4 113.1,1021.4 114.0,1020.5 114.8,1020.0 115.7,1020.5 116.5,1019.2 117.3,1019.7 118.2,1018.0 119.0,1016.7 119.9,1016.3 120.7,1017.8 121.5,1018.0 122.4,1018.5 123.2,1017.9 124.1,1018.4 124.9,1018.4 125.8,1017.0 126.6,1016.7 127.5,1017.6 128.3,1016.4 129.1,1017.2 130.0,1016.3 130.8,1015.6 131.7,1014.7 132.5,1014.6 134.2,1014.6 135.0,1016.7 135.9,1018.4 136.7,1018.7 137.6,1019.3 138.4,1018.0 139.3,1018.6 140.1,1017.2 140.9,1017.1 141.8,1015.4 142.6,1015.5 143.5,1014.8 144.3,1013.8 145.2,1014.7 146.0,1015.5 147.1,1015.2 148.1,1012.9 149.0,1013.1 149.8,1012.1 150.9,1012.8 151.9,1014.6 152.8,1015.5 153.6,1013.8 154.4,1014.1 155.3,1016.3 156.1,1017.2 157.0,1018.4 158.0,1018.6 159.1,1016.5 160.1,1016.9 161.0,1017.3 161.8,1016.6 162.6,1018.6 163.5,1018.6 164.3,1017.9 165.2,1016.0 166.0,1014.4 166.9,1014.5 167.7,1012.2 168.6,1011.9 169.4,1012.1 170.2,1011.5 171.1,1011.0 171.9,1009.3 172.4,931.8 173.6,950.3 175.3,968.8 177.0,987.4 178.7,1000.9 179.5,1005.3 180.3,1009.3 181.2,1011.7 182.0,1014.4 182.9,1014.4 183.7,1012.7 184.6,1015.5 185.4,1016.1 186.3,1018.9 187.1,1022.0 187.9,1022.1 188.8,1020.3 189.6,1021.1 190.5,1021.4 191.3,1020.9 192.2,1020.3 193.2,1020.7 194.2,1018.6 195.3,1020.7 196.4,1021.1 197.2,1020.8 198.1,1021.4 198.9,1022.0 199.7,1022.7 200.6,1021.3 201.4,1022.8 202.3,936.8 203.6,943.5 204.8,972.2 206.5,985.7 207.3,988.1 208.2,990.8 209.0,993.3 209.9,997.5 210.7,999.9 211.6,1004.3 212.4,1004.8 213.2,1008.3 214.1,1009.3 214.9,1009.2 215.8,1010.4 216.6,1011.9 217.5,1013.0 218.3,1015.6 219.1,1016.1 220.0,1013.0 220.8,1012.0 221.7,1010.2 222.5,1011.7 223.4,1014.0 224.2,1014.4 225.0,1017.2 225.9,1019.3 226.7,1020.3 227.6,1018.9 228.4,1018.4 229.3,1017.8 230.1,1017.2 230.9,1018.3 231.8,1018.3 232.6,1016.9 233.5,1013.5 234.3,1011.9 235.2,1010.6 236.0,1010.3 236.8,1009.9 237.7,1010.2 238.5,1010.8 239.4,1011.7 240.2,1011.4 241.1,1012.7 242.8,995.8 243.6,1000.4 244.4,1007.6 245.3,1006.6 246.1,1005.9 247.0,1002.8 247.8,1000.5 248.7,997.5 249.5,1002.9 250.3,1005.9 251.2,1007.0 252.0,1007.1 252.9,1007.6 253.7,1008.5 254.6,1009.2 255.4,1009.3 256.2,1008.4 257.1,1010.9 257.9,1010.2 258.8,1011.7 259.6,1012.8 260.5,1012.7 261.3,1014.3 262.1,1014.4 264.7,994.1 265.5,996.4 266.4,999.2 267.2,1001.0 268.0,1003.4 268.9,1003.8 269.7,1006.6 270.6,1007.6 273.1,1007.6 273.9,1007.9 274.8,1009.3 275.6,1011.9 276.5,1011.7 277.3,1012.1 278.2,1013.5 279.0,1014.4 279.8,1014.9 280.7,1016.0 281.5,1018.6 282.4,1016.6 283.2,1015.4 284.1,1015.1 284.9,1014.4 285.8,1012.9 286.6,1014.9 287.4,1014.0 288.3,1013.5 289.1,1011.2 290.0,1010.1 290.8,1009.3 291.7,1009.2 292.5,1009.5 293.3,1010.2 294.2,1011.3 295.0,1014.4 296.0,1012.8 297.1,1010.6 298.1,1006.8 299.1,1010.5 300.1,1014.4 300.9,1015.7 301.8,1016.1 302.6,1018.6 303.5,1016.7 304.3,1016.5 305.1,1016.1 306.0,1015.2 306.8,1016.5 307.7,1014.5 308.5,1015.2 309.4,1013.1 310.2,1014.7 311.0,1012.8 311.9,1011.9 312.7,1012.6 313.6,1015.3 314.4,1016.9 315.3,1016.0 316.1,1017.5 316.9,1017.8 317.8,1019.6 318.6,1020.0 319.5,1020.2 320.3,1020.3 321.2,1019.2 322.0,1019.1 322.8,1018.1 323.7,1018.6 327.1,1018.6 327.9,1019.1 328.8,1018.3 329.6,1018.7 330.4,1017.8 331.3,1017.5 332.1,1017.4 333.0,1019.2 333.8,1018.6 334.7,1017.6 335.5,1015.0 336.3,1011.9 337.2,1012.9 338.0,1013.2 338.9,1012.7 339.7,1013.5 340.6,1012.4 341.4,1013.4 342.2,1013.5 343.1,1011.9 343.9,1011.0 344.8,1011.2 345.6,1012.6 346.5,1015.2 347.3,1015.6 348.2,1016.5 349.1,1018.6 350.0,1019.0 350.8,1020.6 351.7,1019.7 352.5,1021.4 353.4,1020.7 354.2,1021.3 355.1,1020.6 355.9,1018.5 356.8,1018.2 357.6,1016.4 358.4,1015.4 359.3,1014.2 360.1,1014.0 363.5,1014.0 364.3,1014.6 365.2,1017.1 366.0,1018.2 366.9,1019.4 367.7,1019.5 368.5,1018.8 369.4,1019.0 370.2,1019.6 371.1,1020.2 371.9,1018.6 372.8,1019.9 373.6,1019.7 374.5,1019.8 375.3,1018.2 376.1,1017.8 377.0,1016.6 377.8,1014.8 378.7,1014.5 379.5,1013.5 380.4,1014.9 381.2,1014.0 382.0,1013.3 382.9,1014.3 383.7,1014.6 384.6,1013.1 385.4,1012.0 386.3,1011.2 387.1,1010.6 387.9,1012.0 388.8,1011.6 389.6,1010.4 390.5,1011.4 391.3,1010.7 392.2,1010.9 393.0,1013.1 393.8,1012.3 394.7,1014.2 395.5,1013.6 396.4,1015.6 397.2,1016.3 398.1,1016.5 398.9,1015.4 399.8,1014.8 400.6,1015.1 401.4,1016.2 402.3,1015.7 403.1,1017.3 404.0,1016.3 404.8,1019.0 405.6,1018.4 406.5,1018.2 407.3,1017.7 408.2,1018.2 409.0,1016.5 409.9,1015.5 410.7,1015.8 411.6,1014.0 412.4,1014.4 413.2,1012.4 414.1,1012.1 414.9,1012.3 415.8,1010.9 416.6,1010.6 417.5,1011.6 418.3,1014.0 419.1,1013.3 420.0,1011.6 420.8,1011.4 421.7,1011.4 422.5,1010.9 423.4,1013.1 424.2,1012.3 425.0,1011.3 425.9,1011.0 426.7,1010.6 427.6,1012.2 428.4,1014.5 429.3,1014.8 430.1,1014.9 430.9,1016.5 431.8,1015.6 432.6,1017.1 433.5,1018.5 434.3,1019.9 435.2,1017.4 436.0,1013.6 436.9,1012.3 437.7,1011.9 438.5,1011.0 439.4,1010.4 440.2,1011.4 441.1,1011.6 441.9,1009.3 442.7,1009.5 443.6,1008.9 444.4,1009.1 445.3,1008.2 446.1,1007.2 447.0,1007.2 448.1,983.6 449.0,989.6 449.8,995.4 451.2,1000.5 452.0,1001.7 452.9,1003.5 453.7,1003.8 454.6,1004.5 455.4,1007.4 456.2,1008.9 457.1,1008.7 457.9,1009.2 458.8,1010.9 459.6,1010.6 460.5,1011.0 461.3,1011.6 462.1,1012.5 463.0,1012.3 463.8,1012.9 464.7,1011.3 465.5,1011.3 466.4,1010.6 467.2,1011.0 468.0,1011.5 468.9,1012.4 469.7,1012.3 470.6,1013.0 471.4,1014.1 472.3,1014.8 473.1,1015.6 473.9,1017.6 474.8,1017.9 475.6,1018.2 476.5,1020.3 477.3,1021.6 478.2,1021.5 479.0,1021.2 479.8,1022.3 480.7,1023.6 481.5,1022.7 482.4,1023.3 483.2,1021.2 484.1,1020.9 484.9,1021.5 485.8,1021.0 486.6,1019.6 487.4,1019.6 488.3,1019.9 489.1,1018.1 490.0,1019.0 490.8,1018.7 491.6,1017.3 492.5,1018.2 493.3,1016.0 494.2,1017.3 495.0,1016.5 495.9,1016.7 496.7,1015.1 497.6,1016.9 498.4,1015.6 499.2,1016.0 500.1,1013.2 500.9,1014.3 501.8,1012.3 502.6,1010.8 503.5,1009.7 504.3,1009.8 505.1,1007.2 506.0,1007.0 506.8,1004.1 507.7,1003.8 508.9,992.9 510.2,998.8 511.0,1001.1 511.9,1003.8 512.7,1004.7 513.6,1005.1 514.4,1006.4 515.3,1006.2 516.1,1007.2 516.9,1008.8 517.8,1008.9 518.6,1008.5 519.5,1010.7 520.3,1011.3 521.2,1012.3 522.0,1011.4 522.8,1012.7 523.7,1013.9 524.5,1014.0 525.4,1014.6 526.2,1014.0 527.1,1015.6 529.6,1015.6 530.4,1015.8 531.3,1014.2 532.1,1012.3 533.0,1013.1 533.8,1010.4 534.7,1010.4 535.5,1010.6 538.9,1010.6 539.7,1008.3 540.6,1009.2 541.4,1006.8 542.2,1006.4 543.1,1006.0 543.9,1007.4 544.8,1009.3 545.6,1008.9 546.5,1010.9 547.4,1010.6 548.2,1011.5 549.1,1014.7 550.0,1014.8 550.8,1014.8 551.7,1014.9 552.5,1013.1 553.4,1014.0 554.2,1012.0 555.1,1012.8 555.9,1011.2 556.8,1010.6 557.6,1008.8 558.4,1010.5 559.3,1009.0 560.1,1008.1 561.0,1008.4 561.8,1006.1 562.6,1007.7 563.5,1006.4 564.3,1005.0 565.2,1006.8 566.0,1005.5 566.9,1006.0 567.7,1006.2 568.5,1007.2 569.4,1009.5 570.2,1011.4 571.1,1014.2 571.9,1014.2 572.8,1016.5 573.6,1016.1 574.5,1017.7 575.3,1018.2 576.1,1017.7 577.0,1017.6 577.8,1017.9 578.7,1019.0 579.5,1017.3 580.4,1017.1 581.2,1017.3 582.0,1016.2 582.9,1015.6 583.7,1016.1 584.6,1014.8 585.4,1013.1 586.3,1012.6 587.1,1011.4 587.9,1009.2 588.8,1008.2 589.6,1007.2 590.5,1004.9 591.3,1004.5 592.2,1002.8 593.0,1003.0 593.8,1004.7 594.7,1005.4 595.5,1006.4 596.4,1005.8 597.2,1006.7 598.1,1008.1 598.9,1007.2 599.7,1006.4 600.6,1008.5 601.4,1007.7 602.3,1008.1 603.1,1008.9 604.0,1010.6 604.8,1010.3 605.6,1011.4 606.5,1009.8 607.3,1008.5 608.2,1006.4 609.0,1007.9 609.9,1006.5 610.7,1007.2 614.1,1007.2 614.9,1007.5 615.8,1006.6 616.6,1005.5 617.5,1005.0 618.3,1003.6 619.1,1003.0 620.0,1003.2 620.8,1003.1 621.7,1003.9 622.5,1005.5 623.4,1006.1 624.2,1009.5 625.0,1010.6 626.1,1012.5 627.2,1015.6 628.2,1012.7 629.3,1011.4 632.6,1011.4 633.5,1011.2 634.3,1014.0 635.2,1014.0 636.0,1013.5 636.8,1011.6 637.7,1009.8 638.5,1010.3 639.4,1011.3 640.2,1013.1 641.1,1011.5 641.9,1010.8 642.8,1009.8 643.6,1008.3 644.4,1008.5 645.3,1008.1 646.1,1011.2 647.0,1015.6 647.8,1017.7 648.6,1018.6 649.5,1018.2 650.3,1018.5 651.2,1017.9 652.0,1020.0 652.9,1019.0 653.7,1016.8 654.6,1015.3 655.4,1014.0 656.2,1010.6 657.1,1009.8 660.5,1009.8 663.0,1009.8 663.8,1009.9 664.7,1010.5 665.5,1011.0 666.4,1011.4 667.2,1010.1 668.0,1010.3 668.9,1009.8 669.7,1009.9 670.6,1011.9 671.4,1014.0 672.3,1013.1 673.1,1014.1 673.9,1013.4 674.8,1014.8 675.6,1014.4 676.5,1016.0 677.3,1017.3 678.2,1018.0 679.0,1020.4 679.9,1021.5 680.7,1021.9 681.5,1022.8 682.4,1022.8 683.2,1022.7 686.6,1022.4 687.4,1022.7 688.3,1023.0 689.1,1021.5 690.0,1021.5 690.8,1020.3 691.7,1021.1 692.5,1019.0 693.3,1017.1 694.2,1017.5 695.0,1016.2 695.9,1014.8 696.7,1014.2 697.6,1016.8 698.4,1016.5 699.2,1017.9 700.1,1017.7 700.9,1018.4 701.8,1018.2 702.6,1019.2 703.5,1017.7 704.3,1018.9 705.1,1019.0 706.0,1019.7 706.8,1021.2 707.7,1021.7 708.5,1021.5 709.4,1022.6 710.2,1022.2 711.0,1023.2 711.9,1022.4 717.0,1022.4 722.0,1022.7 727.1,1022.4 727.9,1022.7 728.8,1022.6 729.6,1021.2 730.4,1020.5 731.3,1021.5 732.1,1020.3 733.0,1020.5 733.8,1019.5 734.7,1021.1 735.5,1019.9 736.3,1019.6 737.2,1019.4 738.0,1018.9 738.9,1018.2 739.7,1019.5 740.6,1019.8 741.4,1019.4 742.2,1021.5 743.1,1021.8 743.9,1021.2 744.8,1020.0 745.6,1019.6 746.5,1019.0 747.3,1020.1 748.2,1019.3 749.1,1021.7 750.0,1021.8 750.8,1020.7 751.7,1019.8 752.5,1019.9 753.4,1020.1 754.2,1020.5 755.1,1018.9 755.9,1020.1 756.8,1019.3 757.6,1021.1 758.4,1020.4 759.3,1020.9 760.1,1019.8 761.0,1019.2 761.8,1018.4 762.6,1019.2 763.5,1019.7 764.3,1019.3 765.2,1018.2 766.0,1016.8 766.9,1015.0 769.4,1015.0 770.2,1014.8 771.1,1015.8 771.9,1017.6 772.8,1017.5 773.6,1019.3 774.5,1019.3 775.3,1019.9 776.1,1021.7 777.0,1022.6 780.4,1022.6 783.7,1022.6 786.8,1022.6 787.1,960.2 788.5,973.7 789.6,987.2 790.5,990.2 791.3,995.6 792.2,999.6 793.0,1005.8 793.8,1007.7 794.7,1010.8 795.5,1012.7 796.4,1014.1 797.2,1015.0 798.1,1016.3 798.9,1016.2 799.8,1017.6 800.6,1017.9 801.4,1018.0 802.3,1018.4 803.1,1016.6 804.0,1014.1 804.8,1013.4 805.7,1014.7 806.5,1013.1 807.3,1014.2 808.2,1016.8 809.0,1018.1 809.9,1018.4 810.7,1018.0 811.5,1020.0 812.4,1020.9 813.2,1022.3 814.1,1023.3 814.9,1022.6 819.1,1022.6 824.2,1022.6 829.3,1022.6 830.1,1022.3 830.9,1021.7 831.8,1021.4 832.6,1023.1 833.5,1021.8 834.3,1020.8 835.2,1021.6 836.0,1020.2 836.9,1020.9 837.7,1018.5 838.5,1015.9 839.4,1016.9 840.2,1014.5 841.1,1016.1 841.9,1015.0 842.8,1015.9 843.6,1017.7 844.4,1017.6 845.3,1017.8 846.1,1016.3 847.0,1016.7 847.8,1018.0 848.6,1017.3 849.5,1017.6 850.3,1016.6 851.2,1016.8 852.0,1018.4 852.9,1019.2 853.7,1020.0 854.5,1020.9 855.4,1020.0 856.2,1019.2 857.1,1019.3 857.9,1019.3 858.8,1018.2 859.6,1019.0 860.5,1017.6 862.1,998.2 863.0,1002.4 863.8,1009.1 864.7,1008.9 865.5,1007.5 866.4,1006.9 867.2,1003.7 868.0,1003.2 868.9,1007.3 869.7,1009.1 872.3,1009.1 873.1,1010.1 873.9,1011.0 874.8,1009.9 875.6,1010.8 876.5,1011.6 877.3,1012.8 878.2,1014.2 880.7,1014.2 883.2,1014.2 884.1,1016.6 884.9,1016.7 885.8,1017.6 886.6,1016.4 887.4,1015.7 888.3,1015.0 889.1,1015.3 890.0,1015.6 890.8,1017.6 894.2,1017.6 895.0,1016.0 895.9,1017.3 896.7,1015.9 897.6,1014.5 898.4,1015.3 899.2,1013.4 900.1,1012.1 900.9,1011.6 901.8,1011.7 902.6,1012.8 903.5,1013.1 904.3,1015.0 905.1,1013.9 906.0,1014.5 906.8,1012.5 907.7,1012.5 908.5,1011.2 909.4,1009.7 910.2,1008.3 911.0,1008.2 911.9,1007.2 912.7,1004.9 913.6,1004.6 914.4,1004.7 915.3,1002.5 916.1,1003.2 916.9,1002.7 917.8,1000.9 918.6,999.9 919.5,1000.8 920.3,1000.8 921.2,1000.7 922.0,1002.4 922.8,1004.0 923.7,1007.5 925.4,985.5 926.5,982.8 927.6,977.9 928.8,985.5 929.6,989.6 930.4,995.6 931.3,999.0 932.1,1002.0 933.0,1005.8 933.8,1007.2 934.7,1010.3 935.5,1011.7 936.3,1013.8 937.2,1012.7 938.0,1014.2 938.9,1014.9 939.7,1014.2 940.6,1015.0 941.4,1016.3 942.2,1017.0 943.1,1018.4 943.9,1017.3 944.8,1017.0 945.6,1017.6 946.5,1016.0 947.4,1016.9 948.2,1015.0 949.1,1013.5 950.0,1013.4 950.8,1014.7 951.7,1015.2 952.5,1014.2 953.4,1012.4 954.2,1009.9 955.1,1009.1 955.9,1009.2 956.7,1009.8 957.6,1011.7 958.4,1010.1 959.3,1008.4 960.1,1008.3 961.0,1006.2 961.8,1004.9 962.6,1004.1 963.5,1003.7 964.3,1004.0 965.2,1002.4 966.0,1004.7 966.9,1005.8 967.7,1006.8 968.5,1008.3 969.4,1007.5 970.2,1007.2 971.1,1006.6 971.9,1006.6 972.8,1006.7 973.6,1007.5 974.5,1006.6 975.3,1007.4 976.1,1008.3 977.0,1009.8 977.8,1007.9 978.7,1009.1 979.5,1010.8 980.4,1012.5 981.5,973.7 982.9,983.8 983.7,995.6 984.6,998.5 985.4,1000.7 986.3,1002.5 987.1,1001.7 987.9,1003.2 988.8,1005.6 989.6,1009.1 990.5,1009.3 991.3,1010.8 992.2,1009.7 993.0,1009.1 993.8,1010.7 994.7,1013.7 995.5,1014.2 996.4,1016.2 997.2,1017.4 998.1,1017.6 998.9,1016.9 999.7,1017.5 1000.6,1019.3 1001.4,1018.4 1002.3,1017.5 1003.1,1015.0 1004.0,1014.6 1004.8,1014.2 1005.7,1015.8 1006.5,1015.7 1007.3,1018.4 1010.7,1018.4 1011.6,1018.7 1012.4,1020.6 1013.2,1020.1 1014.1,1021.6 1014.9,1022.4 1015.8,1022.1 1020.8,1022.3 1027.6,1022.3 1034.3,1022.3 1041.1,1022.3 1041.9,1023.4 1042.7,1021.5 1043.6,1021.0 1044.4,1021.1 1045.3,1021.9 1046.1,1021.8 1047.0,1021.4 1047.8,1021.2 1048.6,1019.8 1049.5,1018.4 1050.3,1019.1 1051.2,1019.7 1052.0,1019.3 1052.9,1017.5 1053.7,1016.0 1054.5,1014.2 1055.4,1011.7 1056.2,1011.7 1057.1,1013.5 1057.9,1013.2 1058.8,1015.0 1059.6,1015.9 1060.5,1014.9 1061.3,1014.2 1062.1,1014.3 1063.0,1014.5 1063.8,1015.5 1064.7,1016.7 1065.5,1015.7 1066.4,1014.4 1067.2,1012.5 1068.0,1010.9 1068.9,1010.3 1069.7,1010.8 1070.6,1012.0 1071.4,1013.3 1072.3,1014.2 1073.1,1013.6 1073.9,1012.9 1074.8,1013.4 1075.6,1014.7 1076.5,1014.2 1077.3,1016.0 1078.2,1017.6 1079.0,1016.8 1079.8,1017.5 1080.7,1016.0 1081.5,1015.0 1084.1,1015.0 1084.9,1017.4 1085.7,1017.8 1086.6,1019.3 1087.4,1017.3 1088.3,1016.1 1089.1,1016.7 1090.0,1014.2 1090.8,1015.9 1091.7,1015.9 1092.5,1017.6 1093.3,1016.6 1094.2,1018.1 1095.0,1018.4 1095.9,1018.3 1096.7,1017.1 1097.5,1016.7 1098.4,1015.1 1099.2,1015.1 1100.0,1013.7 1100.9,1016.0 1101.8,1015.3 1102.6,1016.0 1103.5,1018.4 1104.3,1016.8 1105.1,1015.8 1105.9,1014.8 1106.8,1016.2 1107.7,1015.9 1108.7,1018.4 1109.6,1019.2 1110.5,1019.5 1111.4,1020.0 1112.2,1019.6 1113.1,1022.1 1114.0,1021.3 1115.0,1020.6 1115.9,1021.7 1116.9,1019.9 1117.8,1019.6 1118.8,1020.1 1119.6,1019.9 1120.4,1018.4 1120.5,667.0 1121.3,667.0 1122.0,745.0 1123.0,805.0 1123.6,900.0 1124.6,920.0 1126.0,935.0 1127.5,958.6 1129.9,982.0 1131.2,993.0 1132.1,994.2 1132.9,997.6 1133.8,998.1 1134.3,1006.3 1135.3,1008.4 1136.2,1009.6 1137.2,1012.5 1138.3,1007.0 1139.5,1002.9 1140.5,1002.2 1141.4,1002.4 1142.4,1001.5 1143.8,1009.6 1144.6,1012.8 1145.4,1012.8 1146.2,1015.8 1147.2,1013.9 1148.1,1012.5 1148.9,1012.4 1149.7,1015.0 1150.5,1014.4 1151.5,1015.7 1152.4,1017.6 1153.4,1021.0 1154.4,1017.3 1155.3,1015.7 1156.3,1013.4 1157.1,1013.4 1157.9,1012.2 1158.8,1010.8 1159.6,1009.1 1160.4,1012.3 1161.2,1014.0 1162.0,1014.8 1162.9,1013.5 1163.7,1012.3 1164.6,1013.4 1165.4,1012.0 1166.3,1010.5 1167.1,1010.9 1167.9,1014.1 1168.7,1015.3 1169.7,1013.1 1170.6,1011.2 1171.5,1009.2 1172.5,1007.7 1173.3,1009.1 1174.1,1010.9 1174.9,1014.4 1176.1,1010.9 1177.3,1008.6 1178.2,1011.1 1179.2,1014.4 1180.4,1014.6 1181.6,1012.5 1182.5,1012.2 1183.5,1013.9" fill="none" stroke="#000" stroke-width="2.8" stroke-linejoin="round" stroke-linecap="butt"/>
<g stroke="#333333" stroke-width="2.7"><line x1="53.80" x2="61.80" y1="1025.60" y2="1025.60"/><line x1="53.80" x2="61.80" y1="889.60" y2="889.60"/><line x1="53.80" x2="61.80" y1="753.60" y2="753.60"/><line x1="61.80" x2="61.80" y1="1040.8" y2="1048.50"/><line x1="98.09" x2="98.09" y1="1040.8" y2="1048.50"/><line x1="134.79" x2="134.79" y1="1040.8" y2="1048.50"/><line x1="171.89" x2="171.89" y1="1040.8" y2="1048.50"/><line x1="208.99" x2="208.99" y1="1040.8" y2="1048.50"/><line x1="245.28" x2="245.28" y1="1040.8" y2="1048.50"/><line x1="281.97" x2="281.97" y1="1040.8" y2="1048.50"/><line x1="319.07" x2="319.07" y1="1040.8" y2="1048.50"/><line x1="356.17" x2="356.17" y1="1040.8" y2="1048.50"/><line x1="392.47" x2="392.47" y1="1040.8" y2="1048.50"/><line x1="429.16" x2="429.16" y1="1040.8" y2="1048.50"/><line x1="466.26" x2="466.26" y1="1040.8" y2="1048.50"/><line x1="503.36" x2="503.36" y1="1040.8" y2="1048.50"/><line x1="540.05" x2="540.05" y1="1040.8" y2="1048.50"/><line x1="576.75" x2="576.75" y1="1040.8" y2="1048.50"/><line x1="613.85" x2="613.85" y1="1040.8" y2="1048.50"/><line x1="650.95" x2="650.95" y1="1040.8" y2="1048.50"/><line x1="687.24" x2="687.24" y1="1040.8" y2="1048.50"/><line x1="723.94" x2="723.94" y1="1040.8" y2="1048.50"/><line x1="761.04" x2="761.04" y1="1040.8" y2="1048.50"/><line x1="798.13" x2="798.13" y1="1040.8" y2="1048.50"/><line x1="834.43" x2="834.43" y1="1040.8" y2="1048.50"/><line x1="871.12" x2="871.12" y1="1040.8" y2="1048.50"/><line x1="908.22" x2="908.22" y1="1040.8" y2="1048.50"/><line x1="945.32" x2="945.32" y1="1040.8" y2="1048.50"/><line x1="981.61" x2="981.61" y1="1040.8" y2="1048.50"/><line x1="1018.31" x2="1018.31" y1="1040.8" y2="1048.50"/><line x1="1055.41" x2="1055.41" y1="1040.8" y2="1048.50"/><line x1="1092.51" x2="1092.51" y1="1040.8" y2="1048.50"/><line x1="1129.20" x2="1129.20" y1="1040.8" y2="1048.50"/><line x1="1165.90" x2="1165.90" y1="1040.8" y2="1048.50"/></g>
<text x="47.3" y="1035.90" font-size="26.2" text-anchor="end" fill="#000">0</text>
<text x="47.3" y="899.90" font-size="26.2" text-anchor="end" fill="#000">200</text>
<text x="47.3" y="763.90" font-size="26.2" text-anchor="end" fill="#000">400</text>
<text transform="translate(80.80,1060.9) rotate(-70)" font-size="26.2" text-anchor="end" fill="#000">01-2013</text>
<text transform="translate(117.09,1060.9) rotate(-70)" font-size="26.2" text-anchor="end" fill="#000">04-2013</text>
<text transform="translate(153.79,1060.9) rotate(-70)" font-size="26.2" text-anchor="end" fill="#000">07-2013</text>
<text transform="translate(190.89,1060.9) rotate(-70)" font-size="26.2" text-anchor="end" fill="#000">10-2013</text>
<text transform="translate(227.99,1060.9) rotate(-70)" font-size="26.2" text-anchor="end" fill="#000">01-2014</text>
<text transform="translate(264.28,1060.9) rotate(-70)" font-size="26.2" text-anchor="end" fill="#000">04-2014</text>
<text transform="translate(300.97,1060.9) rotate(-70)" font-size="26.2" text-anchor="end" fill="#000">07-2014</text>
<text transform="translate(338.07,1060.9) rotate(-70)" font-size="26.2" text-anchor="end" fill="#000">10-2014</text>
<text transform="translate(375.17,1060.9) rotate(-70)" font-size="26.2" text-anchor="end" fill="#000">01-2015</text>
<text transform="translate(411.47,1060.9) rotate(-70)" font-size="26.2" text-anchor="end" fill="#000">04-2015</text>
<text transform="translate(448.16,1060.9) rotate(-70)" font-size="26.2" text-anchor="end" fill="#000">07-2015</text>
<text transform="translate(485.26,1060.9) rotate(-70)" font-size="26.2" text-anchor="end" fill="#000">10-2015</text>
<text transform="translate(522.36,1060.9) rotate(-70)" font-size="26.2" text-anchor="end" fill="#000">01-2016</text>
<text transform="translate(559.05,1060.9) rotate(-70)" font-size="26.2" text-anchor="end" fill="#000">04-2016</text>
<text transform="translate(595.75,1060.9) rotate(-70)" font-size="26.2" text-anchor="end" fill="#000">07-2016</text>
<text transform="translate(632.85,1060.9) rotate(-70)" font-size="26.2" text-anchor="end" fill="#000">10-2016</text>
<text transform="translate(669.95,1060.9) rotate(-70)" font-size="26.2" text-anchor="end" fill="#000">01-2017</text>
<text transform="translate(706.24,1060.9) rotate(-70)" font-size="26.2" text-anchor="end" fill="#000">04-2017</text>
<text transform="translate(742.94,1060.9) rotate(-70)" font-size="26.2" text-anchor="end" fill="#000">07-2017</text>
<text transform="translate(780.04,1060.9) rotate(-70)" font-size="26.2" text-anchor="end" fill="#000">10-2017</text>
<text transform="translate(817.13,1060.9) rotate(-70)" font-size="26.2" text-anchor="end" fill="#000">01-2018</text>
<text transform="translate(853.43,1060.9) rotate(-70)" font-size="26.2" text-anchor="end" fill="#000">04-2018</text>
<text transform="translate(890.12,1060.9) rotate(-70)" font-size="26.2" text-anchor="end" fill="#000">07-2018</text>
<text transform="translate(927.22,1060.9) rotate(-70)" font-size="26.2" text-anchor="end" fill="#000">10-2018</text>
<text transform="translate(964.32,1060.9) rotate(-70)" font-size="26.2" text-anchor="end" fill="#000">01-2019</text>
<text transform="translate(1000.61,1060.9) rotate(-70)" font-size="26.2" text-anchor="end" fill="#000">04-2019</text>
<text transform="translate(1037.31,1060.9) rotate(-70)" font-size="26.2" text-anchor="end" fill="#000">07-2019</text>
<text transform="translate(1074.41,1060.9) rotate(-70)" font-size="26.2" text-anchor="end" fill="#000">10-2019</text>
<text transform="translate(1111.51,1060.9) rotate(-70)" font-size="26.2" text-anchor="end" fill="#000">01-2020</text>
<text transform="translate(1148.20,1060.9) rotate(-70)" font-size="26.2" text-anchor="end" fill="#000">04-2020</text>
<text transform="translate(1184.90,1060.9) rotate(-70)" font-size="26.2" text-anchor="end" fill="#000">07-2020</text>
</svg></body></html>
